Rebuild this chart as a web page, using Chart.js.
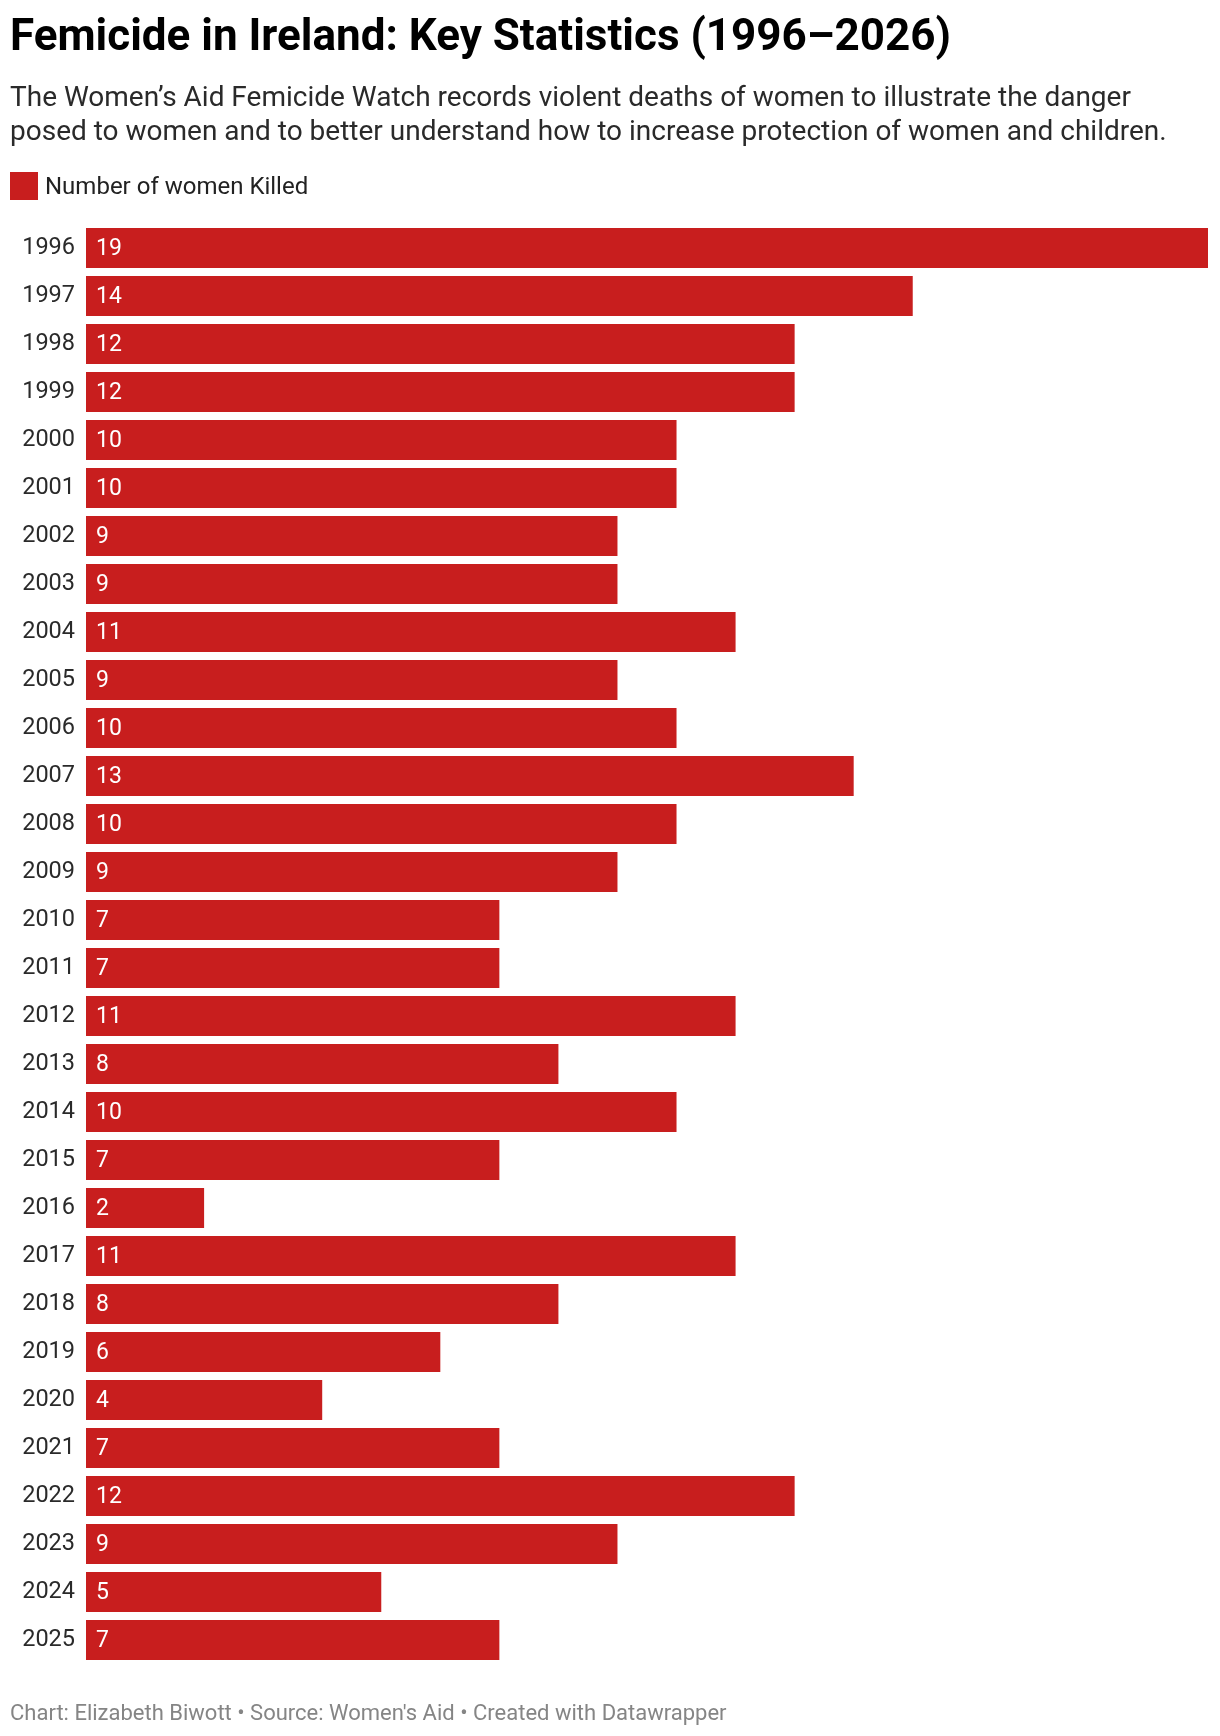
<!DOCTYPE html>
<html>
<head>
<meta charset="utf-8">
<script src="https://cdn.jsdelivr.net/npm/chart.js@4"></script>
<style>
  html, body { margin: 0; padding: 0; background: #fff; }
  body { width: 1220px; height: 1736px; position: relative; overflow: hidden; font-family: Roboto, "Noto Sans", sans-serif; }
  .abs { position: absolute; white-space: nowrap; }
  #title { left: 10px; top: 9px; font-size: 44px; line-height: 52px; font-weight: 700; color: #000; }
  #subtitle { left: 10px; top: 79.5px; font-size: 28px; line-height: 34px; color: #2a2a2a; }
  #legendBox { left: 10px; top: 172px; width: 28px; height: 28px; background: #c81e1e; }
  #legendText { left: 45px; top: 172px; font-size: 24px; line-height: 28px; color: #222; }
  #footer { left: 10px; top: 1700px; font-size: 22px; line-height: 26px; color: #858585; }
  #wrap { position: absolute; left: 0; top: 0; width: 1220px; height: 1736px; }
</style>
</head>
<body>
<div id="wrap"><canvas id="c"></canvas></div>
<div class="abs" id="title">Femicide in Ireland: Key Statistics (1996–2026)</div>
<div class="abs" id="subtitle">The Women’s Aid Femicide Watch records violent deaths of women to illustrate the danger<br>posed to women and to better understand how to increase protection of women and children.</div>
<div class="abs" id="legendBox"></div>
<div class="abs" id="legendText">Number of women Killed</div>
<div class="abs" id="footer">Chart: Elizabeth Biwott • Source: Women's Aid • Created with Datawrapper</div>
<script>
const years = ["1996","1997","1998","1999","2000","2001","2002","2003","2004","2005",
  "2006","2007","2008","2009","2010","2011","2012","2013","2014","2015",
  "2016","2017","2018","2019","2020","2021","2022","2023","2024","2025"];
const womenKilled = [19,14,12,12,10,10,9,9,11,9,10,13,10,9,7,7,11,8,10,7,2,11,8,6,4,7,12,9,5,7];
const seriesLabel = "Number of women Killed";

const valueLabels = {
  id: 'valueLabels',
  afterDatasetsDraw(chart) {
    const ctx = chart.ctx;
    const meta = chart.getDatasetMeta(0);
    ctx.save();
    ctx.font = '23px Roboto';
    ctx.fillStyle = '#ffffff';
    ctx.textAlign = 'left';
    ctx.textBaseline = 'middle';
    meta.data.forEach((bar, i) => {
      ctx.fillText(String(womenKilled[i]), bar.base + 10, bar.y + 1);
    });
    ctx.restore();
  }
};

new Chart(document.getElementById('c'), {
  type: 'bar',
  data: {
    labels: years,
    datasets: [{
      label: seriesLabel,
      data: womenKilled,
      backgroundColor: '#c81e1e',
      borderWidth: 0,
      categoryPercentage: 1,
      barPercentage: 40/48
    }]
  },
  options: {
    indexAxis: 'y',
    responsive: true,
    maintainAspectRatio: false,
    animation: false,
    layout: { padding: { top: 224, bottom: 72, left: 0, right: 12 } },
    plugins: { legend: { display: false }, tooltip: { enabled: false } },
    scales: {
      x: { display: false, min: 0, max: 19 },
      y: {
        offset: true,
        grid: { display: false, drawTicks: false },
        border: { display: false },
        ticks: { padding: 11, color: '#2a2a2a', font: { family: 'Roboto', size: 23.5 } },
        afterFit(scale) { scale.width = 86; }
      }
    }
  },
  plugins: [valueLabels]
});
</script>
</body>
</html>
